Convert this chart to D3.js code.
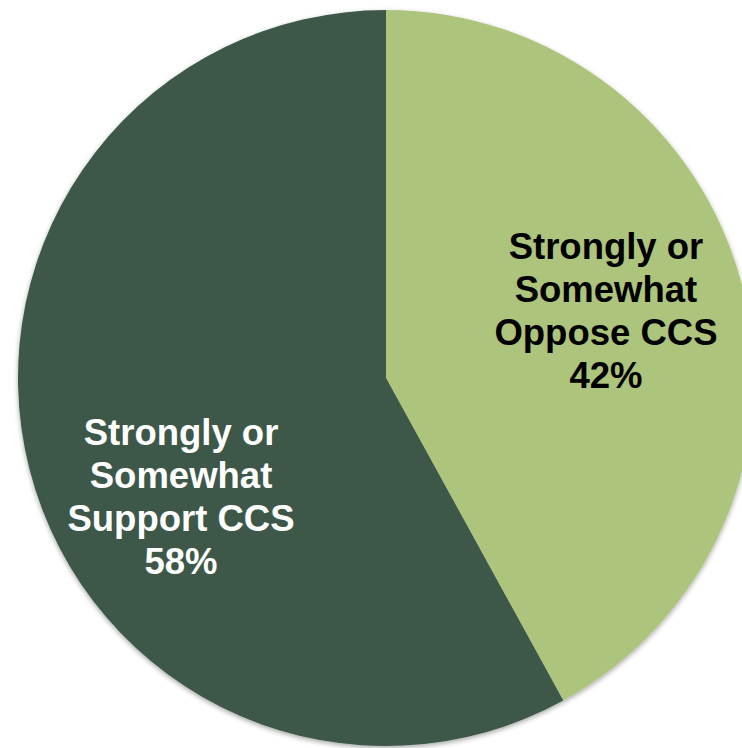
<!DOCTYPE html>
<html>
<head>
<meta charset="utf-8">
<script src="https://cdn.jsdelivr.net/npm/d3@7"></script>
<style>
  html, body { margin: 0; padding: 0; background: #ffffff; }
  svg { display: block; }
</style>
</head>
<body>
<svg id="chart" width="742" height="748"></svg>
<script>
// Survey result: attitude towards carbon capture and storage (CCS)
const categories = ["Strongly or Somewhat Oppose CCS", "Strongly or Somewhat Support CCS"];
const labelLines = [
  ["Strongly or", "Somewhat", "Oppose CCS"],
  ["Strongly or", "Somewhat", "Support CCS"]
];
const shares = [42, 58];
const colors = ["#adc47c", "#3c584a"];
const textColors = ["#000000", "#ffffff"];

const svg = d3.select("#chart");
const cx = 386, cy = 378, radius = 368;

// soft drop shadow under the pie
const defs = svg.append("defs");
const filter = defs.append("filter")
  .attr("id", "pieShadow")
  .attr("x", "-10%").attr("y", "-10%")
  .attr("width", "120%").attr("height", "120%");
filter.append("feDropShadow")
  .attr("dx", 0).attr("dy", 2)
  .attr("stdDeviation", 2.5)
  .attr("flood-color", "#000")
  .attr("flood-opacity", 0.35);

const data = categories.map((c, i) => ({ name: c, value: shares[i], lines: labelLines[i], i }));

const pie = d3.pie().value(d => d.value).sort(null);
const arc = d3.arc().innerRadius(0).outerRadius(radius);

const g = svg.append("g").attr("transform", `translate(${cx},${cy})`);

const arcs = pie(data);

g.append("g")
  .attr("filter", "url(#pieShadow)")
  .selectAll("path")
  .data(arcs)
  .join("path")
  .attr("d", arc)
  .attr("fill", d => colors[d.data.i]);

// label placement: start at the slice centroid, then nudge toward open space
const labelArc = d3.arc().innerRadius(radius * 0.62).outerRadius(radius * 0.62);
const labelNudge = [[-1, 2], [16, 75]];
const lineHeight = 43;

g.append("g")
  .selectAll("text")
  .data(arcs)
  .join("text")
  .attr("text-anchor", "middle")
  .attr("font-family", "Liberation Sans, Arial, sans-serif")
  .attr("font-weight", "bold")
  .attr("font-size", 36.5)
  .attr("fill", d => textColors[d.data.i])
  .each(function (d) {
    const [x0, y0] = labelArc.centroid(d);
    const [nx, ny] = labelNudge[d.data.i];
    const x = x0 + nx, y = y0 + ny;
    const lines = d.data.lines.concat([d.data.value + "%"]);
    const mid = (lines.length - 1) / 2;
    d3.select(this).selectAll("tspan")
      .data(lines)
      .join("tspan")
      .attr("x", x)
      .attr("y", (t, k) => y + (k - mid) * lineHeight)
      .text(t => t);
  });
</script>
</body>
</html>
